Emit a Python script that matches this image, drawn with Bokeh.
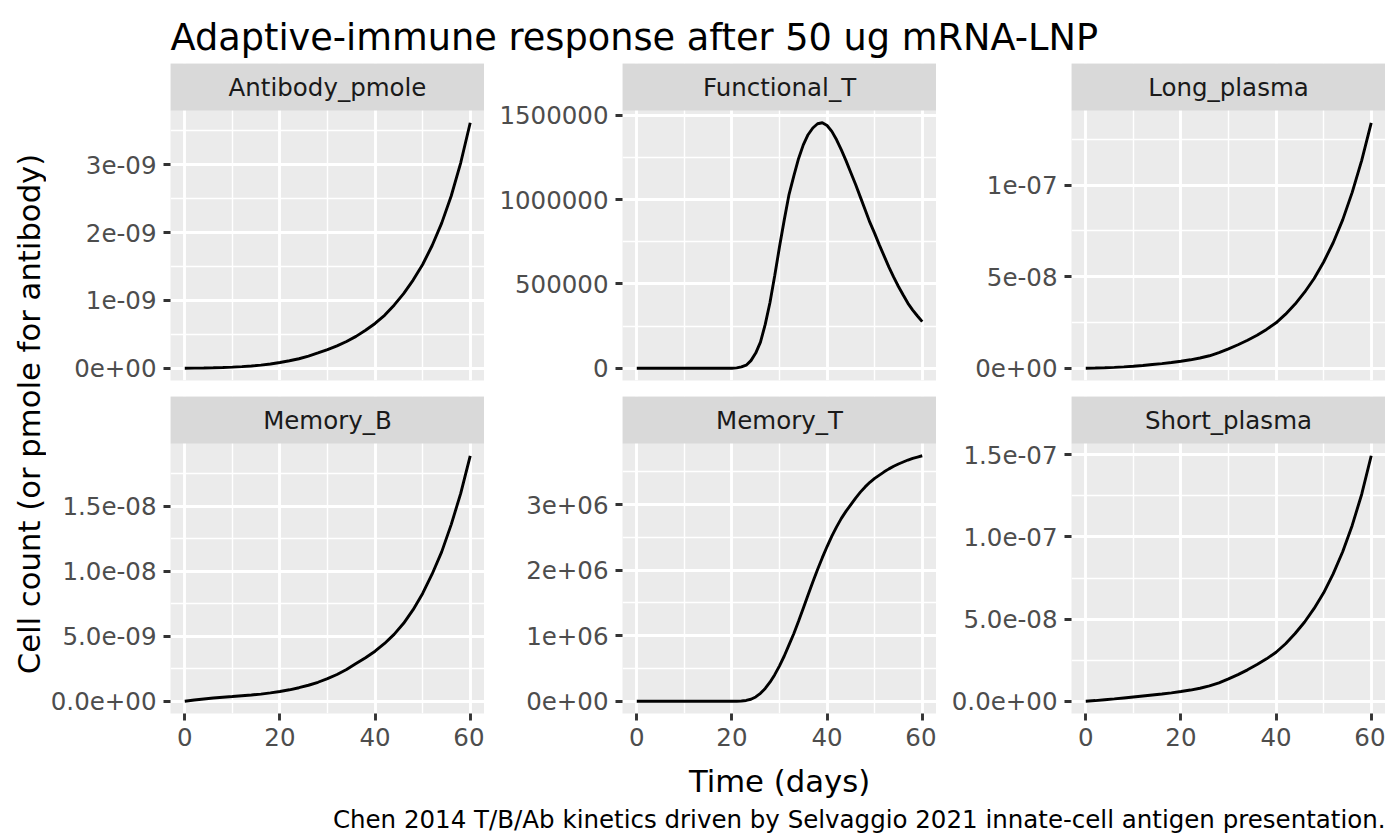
from bokeh.plotting import figure
from bokeh.models import Range1d, FixedTicker, CustomJSTickFormatter, Label, BoxAnnotation
from bokeh.layouts import row, column
from bokeh.embed import file_html
from bokeh.resources import INLINE

# ---------------- data ----------------
days_2 = list(range(0, 61, 2))
days_1 = list(range(0, 61))

antibody_pmole_e9 = [0, 0.001, 0.003, 0.006, 0.01, 0.016, 0.023, 0.032, 0.045, 0.062, 0.085,
                     0.11, 0.14, 0.18, 0.225, 0.275, 0.33, 0.395, 0.47, 0.56, 0.66,
                     0.78, 0.93, 1.1, 1.3, 1.53, 1.81, 2.14, 2.54, 3.03, 3.62]
functional_t_e6 = [0] * 21 + [0.002, 0.008, 0.018, 0.045, 0.09, 0.155, 0.26, 0.39, 0.55, 0.72,
                              0.88, 1.03, 1.14, 1.243, 1.325, 1.385, 1.425, 1.45, 1.456, 1.44,
                              1.405, 1.355, 1.295, 1.23, 1.16, 1.09, 1.015, 0.94, 0.865, 0.80,
                              0.73, 0.665, 0.60, 0.54, 0.485, 0.434, 0.385, 0.345, 0.31, 0.276]
long_plasma_e8 = [0, 0.01, 0.025, 0.045, 0.075, 0.11, 0.15, 0.2, 0.25, 0.31, 0.38,
                  0.46, 0.56, 0.68, 0.85, 1.06, 1.28, 1.53, 1.8, 2.12, 2.48,
                  2.95, 3.5, 4.15, 4.9, 5.8, 6.85, 8.1, 9.6, 11.35, 13.4]
memory_b_e9 = [0, 0.09, 0.17, 0.25, 0.31, 0.36, 0.42, 0.48, 0.55, 0.64, 0.75,
               0.88, 1.04, 1.23, 1.46, 1.74, 2.06, 2.45, 2.9, 3.35, 3.85,
               4.45, 5.15, 6.0, 7.05, 8.3, 9.8, 11.5, 13.6, 16.0, 18.9]
memory_t_e6 = [0] * 22 + [0.003, 0.012, 0.03, 0.065, 0.12, 0.195, 0.29, 0.405, 0.54, 0.69,
                          0.86, 1.03, 1.22, 1.42, 1.62, 1.82, 2.01, 2.19, 2.36, 2.52,
                          2.66, 2.79, 2.9, 3.0, 3.1, 3.19, 3.27, 3.34, 3.40, 3.45,
                          3.50, 3.545, 3.585, 3.62, 3.65, 3.68, 3.705, 3.725, 3.745]
short_plasma_e8 = [0, 0.04, 0.09, 0.14, 0.2, 0.26, 0.32, 0.38, 0.44, 0.51, 0.59,
                   0.68, 0.79, 0.93, 1.12, 1.36, 1.62, 1.91, 2.23, 2.58, 2.98,
                   3.5, 4.12, 4.82, 5.65, 6.6, 7.75, 9.1, 10.7, 12.6, 14.94]

panel_names = ["Antibody_pmole", "Functional_T", "Long_plasma",
               "Memory_B", "Memory_T", "Short_plasma"]

x_ticks = [0, 20, 40, 60]
x_minor = [10, 30, 50]

ab_ticks = [0, 1e-9, 2e-9, 3e-9]
ab_labels = ["0e+00", "1e-09", "2e-09", "3e-09"]
ab_minor = [0.5e-9, 1.5e-9, 2.5e-9, 3.5e-9]

ft_ticks = [0, 500000, 1000000, 1500000]
ft_labels = ["0", "500000", "1000000", "1500000"]
ft_minor = [250000, 750000, 1250000]

lp_ticks = [0, 5e-8, 1e-7]
lp_labels = ["0e+00", "5e-08", "1e-07"]
lp_minor = [2.5e-8, 7.5e-8, 1.25e-7]

mb_ticks = [0, 5e-9, 1e-8, 1.5e-8]
mb_labels = ["0.0e+00", "5.0e-09", "1.0e-08", "1.5e-08"]
mb_minor = [2.5e-9, 7.5e-9, 1.25e-8, 1.75e-8]

mt_ticks = [0, 1e6, 2e6, 3e6]
mt_labels = ["0e+00", "1e+06", "2e+06", "3e+06"]
mt_minor = [0.5e6, 1.5e6, 2.5e6, 3.5e6]

sp_ticks = [0, 5e-8, 1e-7, 1.5e-7]
sp_labels = ["0.0e+00", "5.0e-08", "1.0e-07", "1.5e-07"]
sp_minor = [2.5e-8, 7.5e-8, 1.25e-7]

title_text = "Adaptive-immune response after 50 ug mRNA-LNP"
x_title = "Time (days)"
y_title = "Cell count (or pmole for antibody)"
caption_text = "Chen 2014 T/B/Ab kinetics driven by Selvaggio 2021 innate-cell antigen presentation."

# ---------------- styling / layout ----------------
FONT = "DejaVu Sans"
PANEL_BG = "#EBEBEB"
STRIP_BG = "#D9D9D9"
SMALL = "24.5px"
MEDIUM = "30.7px"
LARGE = "36.7px"
FW, FH, SH = 314, 270, 47
TOP, GAP, B2 = 63, 16, 44
LEFTS = [124, 138, 135]
YLAB_W = 46
TOTAL_W = YLAB_W + sum(LEFTS) + 3 * FW
MID_H = (SH + FH + GAP) + (SH + FH + B2)
BOT_H = 78
X_LO, X_HI = -3, 63

panels = [
    (days_2, [v * 1e-9 for v in antibody_pmole_e9], ab_ticks, ab_labels, ab_minor),
    (days_1, [v * 1e6 for v in functional_t_e6], ft_ticks, ft_labels, ft_minor),
    (days_2, [v * 1e-8 for v in long_plasma_e8], lp_ticks, lp_labels, lp_minor),
    (days_2, [v * 1e-9 for v in memory_b_e9], mb_ticks, mb_labels, mb_minor),
    (days_1, [v * 1e6 for v in memory_t_e6], mt_ticks, mt_labels, mt_minor),
    (days_2, [v * 1e-8 for v in short_plasma_e8], sp_ticks, sp_labels, sp_minor),
]


def fmt_for(tvals, tlabels):
    return CustomJSTickFormatter(args=dict(tvals=tvals, tlabels=tlabels), code="""
        let best = 0, bd = Infinity;
        for (let i = 0; i < tvals.length; i++) {
            const d = Math.abs(tvals[i] - tick);
            if (d < bd) { bd = d; best = i; }
        }
        return tlabels[best];
    """)


def style_axis(ax):
    ax.axis_line_color = None
    ax.major_tick_line_color = "#333333"
    ax.major_tick_line_width = 2.9
    ax.major_tick_out = 7
    ax.major_tick_in = 0
    ax.minor_tick_line_color = None
    ax.major_label_text_font = FONT
    ax.major_label_text_font_size = SMALL
    ax.major_label_text_color = "#4D4D4D"


def blank_fig(w, h):
    f = figure(frame_width=w, frame_height=h, x_range=Range1d(0, w), y_range=Range1d(0, h),
               min_border=0, x_axis_location=None, y_axis_location=None, toolbar_location=None,
               output_backend="svg", background_fill_color="white", border_fill_color="white",
               outline_line_color=None)
    f.grid.visible = False
    return f


def make_panel(idx, left, bottom_row):
    xs, ys, ticks, labels, minor = panels[idx]
    lo, hi = min(ys), max(ys)
    pad = 0.05 * (hi - lo)
    y_lo, y_hi = lo - pad, hi + pad
    strip_span = (y_hi - y_lo) * SH / FH       # the facet strip sits on top of the data area
    p = figure(frame_width=FW, frame_height=FH + SH,
               x_range=Range1d(X_LO, X_HI), y_range=Range1d(y_lo, y_hi + strip_span),
               min_border_left=left, min_border_right=0, min_border_top=0,
               min_border_bottom=B2 if bottom_row else GAP,
               x_axis_location="below" if bottom_row else None,
               toolbar_location=None, output_backend="svg",
               background_fill_color=PANEL_BG, border_fill_color="white",
               outline_line_color=None)
    yt = FixedTicker(ticks=ticks, minor_ticks=minor)
    p.yaxis.ticker = yt
    p.yaxis.formatter = fmt_for(ticks, labels)
    style_axis(p.yaxis[0])
    p.yaxis.major_label_standoff = 7
    p.ygrid.ticker = yt
    xt = FixedTicker(ticks=x_ticks, minor_ticks=x_minor)
    p.xgrid.ticker = xt
    if bottom_row:
        p.xaxis.ticker = xt
        style_axis(p.xaxis[0])
        p.xaxis.major_label_standoff = 7
    for g in (p.xgrid[0], p.ygrid[0]):
        g.grid_line_color = "white"
        g.grid_line_width = 2.9
        g.minor_grid_line_color = "white"
        g.minor_grid_line_width = 1.45
    p.line(xs, ys, line_color="black", line_width=2.9)
    # facet strip
    p.add_layout(BoxAnnotation(bottom=y_hi, fill_color=STRIP_BG, fill_alpha=1.0,
                               line_color=None, line_alpha=0))
    p.add_layout(Label(x=(X_LO + X_HI) / 2, y=y_hi + strip_span / 2, text=panel_names[idx],
                       text_align="center", text_baseline="middle",
                       text_font=FONT, text_font_size=SMALL, text_color="#1A1A1A"))
    return p


cols = []
for c in range(3):
    p1 = make_panel(c, LEFTS[c], False)
    p2 = make_panel(c + 3, LEFTS[c], True)
    cols.append(column(p1, p2, spacing=0))

ylab = blank_fig(YLAB_W, MID_H)
ylab.add_layout(Label(x=29, y=MID_H - (413.5 - TOP), text=y_title, angle=1.5707963,
                      text_align="center", text_baseline="middle", text_font=FONT,
                      text_font_size=MEDIUM, text_color="black"))

top = blank_fig(TOTAL_W, TOP)
top.add_layout(Label(x=YLAB_W + LEFTS[0], y=TOP - 36.7, text=title_text, text_align="left",
                     text_baseline="alphabetic", text_font=FONT, text_font_size=LARGE,
                     text_color="black"))

bottom = blank_fig(TOTAL_W, BOT_H)
mid_col2 = YLAB_W + LEFTS[0] + FW + LEFTS[1] + FW / 2
y0 = TOP + MID_H
bottom.add_layout(Label(x=mid_col2, y=BOT_H - (780.7 - y0), text=x_title, text_align="center",
                        text_baseline="alphabetic", text_font=FONT, text_font_size=MEDIUM,
                        text_color="black"))
bottom.add_layout(Label(x=TOTAL_W, y=BOT_H - (819.3 - y0), text=caption_text, text_align="right",
                        text_baseline="alphabetic", text_font=FONT, text_font_size=SMALL,
                        text_color="black"))

layout = column(top, row(ylab, *cols, spacing=0), bottom, spacing=0)

with open("out.html", "w") as f:
    f.write(file_html(layout, INLINE))
